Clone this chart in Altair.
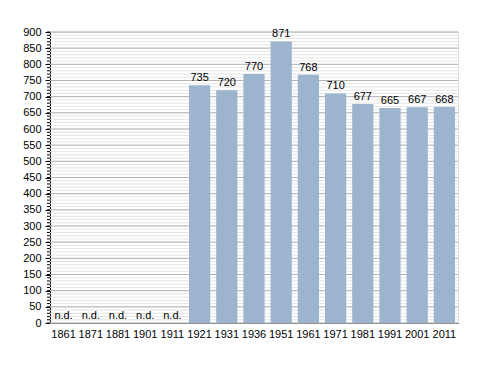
import altair as alt
import pandas as pd

years = ["1861", "1871", "1881", "1901", "1911", "1921", "1931", "1936", "1951",
         "1961", "1971", "1981", "1991", "2001", "2011"]
values = [None, None, None, None, None, 735, 720, 770, 871, 768, 710, 677, 665, 667, 668]
labels = ["n.d.", "n.d.", "n.d.", "n.d.", "n.d.", "735", "720", "770", "871", "768",
          "710", "677", "665", "667", "668"]

df = pd.DataFrame({
    "year": years,
    "value": [v if v is not None else 0 for v in values],
    "label": labels,
    "nd": [v is None for v in values],
})

minor = pd.DataFrame({"g": list(range(0, 901, 10))})
major = pd.DataFrame({"g": list(range(0, 901, 50))})

FONT = "Liberation Sans"
yscale = alt.Scale(domain=[0, 900], nice=False)
yaxis = alt.Axis(values=list(range(0, 901, 50)), grid=False, domainColor="#000000",
                 tickColor="#000000", tickSize=5, labelFont=FONT, labelFontSize=11,
                 labelColor="#000000", labelPadding=4, title=None)

def Y(field):
    return alt.Y(field, scale=yscale, axis=yaxis, title=None)

minor_grid = alt.Chart(minor).mark_rule(color="#e4e4e4", strokeWidth=1).encode(y=Y("g:Q"))
major_grid = alt.Chart(major).mark_rule(color="#b4b4b4", strokeWidth=1).encode(y=Y("g:Q"))

xaxis = alt.Axis(labelAngle=0, ticks=False, domain=True, domainColor="#000000",
                 labelFont=FONT, labelFontSize=11, labelColor="#000000",
                 labelPadding=5, grid=False, title=None)

def X():
    return alt.X("year:N", sort=years, title=None,
                 scale=alt.Scale(paddingInner=0.22, paddingOuter=0.11), axis=xaxis)

bars = alt.Chart(df).mark_bar(color="#9db4cf").encode(x=X(), y=Y("value:Q"))

minor_ticks = alt.Chart(minor).mark_rule(color="#000000", strokeWidth=1).encode(
    y=Y("g:Q"), x=alt.value(-3), x2=alt.value(0)
)

text = alt.Chart(df).mark_text(
    dy=-7, font=FONT, fontSize=11, color="#000000").encode(
    x=X(), y=Y("value:Q"), text="label:N",
)

chart = alt.layer(minor_grid, major_grid, bars, minor_ticks, text).properties(
    width=408, height=291,
    autosize=alt.AutoSizeParams(type="none"),
    padding={"left": 42, "top": 24, "right": 22, "bottom": 42},
).configure_view(stroke=None).configure(background="#ffffff")

chart.save("out.html", embed_options={"renderer": "svg", "actions": False})
